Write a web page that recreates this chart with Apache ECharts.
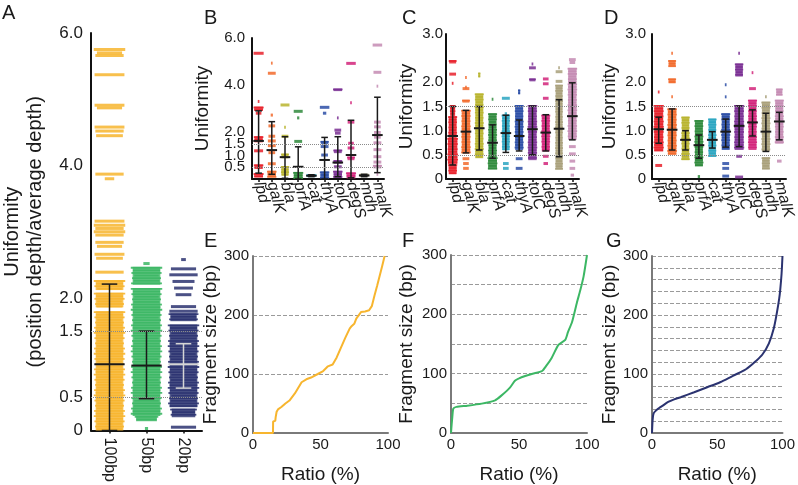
<!DOCTYPE html>
<html>
<head>
<meta charset="utf-8">
<script src="https://cdn.jsdelivr.net/npm/echarts@6/dist/echarts.min.js"></script>
<style>
html, body { margin: 0; padding: 0; background: #fff; }
#main { width: 798px; height: 485px; }
</style>
</head>
<body>
<div id="main"></div>
<script>
// ---- data ----
var fragCats = ['100bp', '50bp', '20bp'];
var genes = ['lpd', 'galK', 'bla', 'prfA', 'cat', 'thyA', 'tolC', 'degS', 'mdh', 'malK'];

// uniformity clusters: [category index, low, high, relative spread]
var bandsA = [
  [0, 5.75, 5.75, 1], [0, 5.70, 5.70, 0.8], [0, 5.66, 5.66, 0.9], [0, 5.37, 5.37, 0.95],
  [0, 4.91, 4.91, 0.95], [0, 4.87, 4.87, 0.8], [0, 4.58, 4.58, 0.95], [0, 4.52, 4.52, 0.9],
  [0, 4.45, 4.45, 0.85], [0, 3.87, 3.87, 0.9], [0, 3.80, 3.80, 0.3], [0, 3.16, 3.16, 0.95],
  [0, 3.10, 3.10, 1], [0, 3.05, 3.05, 0.9], [0, 3.00, 3.00, 1], [0, 2.95, 2.95, 0.9],
  [0, 2.84, 2.84, 0.9], [0, 2.78, 2.78, 0.8], [0, 2.66, 2.66, 0.95], [0, 2.60, 2.60, 0.85],
  [0, 2.39, 2.39, 0.9], [0, 2.12, 2.27, 1], [0, 1.86, 2.08, 1], [0, 0.0, 1.80, 1],
  [1, 2.52, 2.52, 0.2], [1, 2.20, 2.47, 1], [1, 0.22, 2.15, 1], [1, 0.14, 0.22, 0.75], [1, 0.03, 0.03, 0.1],
  [2, 2.58, 2.58, 0.15], [2, 2.44, 2.44, 0.8], [2, 2.35, 2.35, 0.9], [2, 2.25, 2.25, 0.7],
  [2, 2.15, 2.15, 0.6], [2, 2.05, 2.05, 0.5], [2, 1.87, 1.87, 0.8], [2, 1.80, 1.80, 0.9],
  [2, 1.65, 1.77, 0.95], [2, 0.35, 1.60, 1], [2, 0.20, 0.33, 0.85], [2, 0.05, 0.05, 0.8]
];
// [category index, mean, low, high]
var statsA = [[0, 1.0, 0.0, 2.21], [1, 0.98, 0.48, 1.5], [2, 1.0, 0.64, 1.31]];

var bandsB = [
  [0, 5.35, 5.35, 0.9], [0, 3.3, 3.3, 0.15], [0, 2.92, 3.08, 0.9], [0, 2.8, 2.8, 0.5], [0, 1.56, 1.82, 0.85],
  [0, 1.12, 1.2, 0.8], [0, 0.45, 0.62, 0.85], [0, 0.08, 0.25, 0.9],
  [1, 4.93, 4.93, 0.15], [1, 4.4, 4.5, 0.7], [1, 2.72, 2.72, 0.2], [1, 2.2, 2.26, 0.6], [1, 1.76, 1.82, 0.6],
  [1, 1.56, 1.62, 0.7], [1, 1.36, 1.42, 0.7], [1, 1.08, 1.12, 0.6], [1, 0.55, 0.65, 0.7], [1, 0.08, 0.35, 0.85],
  [2, 3.05, 3.15, 0.8], [2, 2.2, 2.2, 0.15], [2, 1.78, 1.82, 0.6], [2, 0.88, 1.08, 0.7], [2, 0.15, 0.55, 0.75],
  [3, 2.8, 2.88, 0.8], [3, 2.6, 2.6, 0.2], [3, 1.55, 1.6, 0.7], [3, 0.0, 0.3, 0.9],
  [4, 0.08, 0.2, 0.9],
  [5, 2.95, 3.05, 0.85], [5, 2.75, 2.8, 0.3], [5, 1.48, 1.62, 0.75], [5, 1.3, 1.38, 0.7], [5, 0.98, 1.02, 0.6], [5, 0.02, 0.32, 0.85],
  [6, 3.74, 3.85, 0.85], [6, 2.6, 2.6, 0.15], [6, 2.0, 2.08, 0.6], [6, 1.9, 1.95, 0.5], [6, 1.1, 1.25, 0.8],
  [6, 0.65, 0.8, 0.8], [6, 0.45, 0.52, 0.7], [6, 0.05, 0.35, 0.85],
  [7, 4.83, 4.92, 0.85], [7, 3.25, 3.25, 0.15], [7, 2.38, 2.42, 0.6], [7, 1.48, 1.52, 0.5], [7, 1.25, 1.32, 0.6],
  [7, 0.8, 0.95, 0.7], [7, 0.02, 0.28, 0.9],
  [8, 0.08, 0.22, 0.85],
  [9, 5.62, 5.7, 0.85], [9, 4.5, 4.54, 0.7], [9, 3.95, 3.95, 0.15], [9, 2.38, 2.42, 0.6], [9, 2.18, 2.22, 0.6],
  [9, 1.92, 1.98, 0.6], [9, 1.72, 1.78, 0.6], [9, 1.46, 1.54, 0.7], [9, 1.15, 1.25, 0.7], [9, 0.85, 0.95, 0.7],
  [9, 0.65, 0.72, 0.7], [9, 0.45, 0.6, 0.8], [9, 0.2, 0.2, 0.15]
];
var statsB = [[0, 1.62, 0.25, 2.9], [1, 1.23, 0.2, 2.44], [2, 0.93, 0.03, 1.8], [3, 0.52, 0, 1.37], [4, 0.14, 0.1, 0.18],
  [5, 0.81, 0, 1.77], [6, 0.7, 0.1, 1.8], [7, 1.02, 0.05, 2.5], [8, 0.15, 0.1, 0.2], [9, 1.87, 0.27, 3.48]];

var bandsC = [
  [0, 2.39, 2.46, 0.7], [0, 2.13, 2.17, 0.6], [0, 1.98, 1.98, 0.15], [0, 1.3, 1.53, 0.5], [0, 0.85, 1.3, 0.8],
  [0, 0.3, 0.85, 0.95], [0, 0.1, 0.3, 0.8],
  [1, 2.1, 2.1, 0.15], [1, 1.9, 1.9, 0.15], [1, 1.82, 1.87, 0.6], [1, 1.58, 1.64, 0.7], [1, 0.53, 1.43, 0.85],
  [1, 0.38, 0.42, 0.6], [1, 0.28, 0.32, 0.5], [1, 0.18, 0.22, 0.5],
  [2, 2.1, 2.2, 0.2], [2, 1.5, 1.77, 0.8], [2, 0.43, 1.5, 0.8],
  [3, 1.65, 1.65, 0.15], [3, 0.45, 1.36, 0.8], [3, 0.2, 0.45, 0.9],
  [4, 1.63, 1.67, 0.7], [4, 1.35, 1.35, 0.2], [4, 0.6, 1.33, 0.75], [4, 0.28, 0.32, 0.5], [4, 0.18, 0.22, 0.5],
  [5, 1.75, 1.85, 0.2], [5, 0.6, 1.53, 0.8], [5, 0.38, 0.42, 0.6], [5, 0.18, 0.22, 0.6],
  [6, 2.38, 2.38, 0.15], [6, 2.26, 2.3, 0.6], [6, 2.02, 2.08, 0.6], [6, 0.39, 1.53, 0.85],
  [7, 2.03, 2.07, 0.5], [7, 1.93, 1.97, 0.5], [7, 1.63, 1.67, 0.5], [7, 0.57, 1.33, 0.8], [7, 0.43, 0.47, 0.5], [7, 0.28, 0.32, 0.4],
  [8, 2.3, 2.3, 0.15], [8, 2.18, 2.22, 0.6], [8, 1.98, 2.02, 0.6], [8, 0.2, 1.95, 0.7],
  [9, 2.43, 2.47, 0.6], [9, 2.38, 2.41, 0.5], [9, 0.81, 2.3, 0.85], [9, 0.63, 0.67, 0.6], [9, 0.48, 0.52, 0.6],
  [9, 0.33, 0.37, 0.5], [9, 0.18, 0.22, 0.5], [9, 0.08, 0.08, 0.3]
];
var statsC = [[0, 0.89, 0.29, 1.5], [1, 0.98, 0.54, 1.42], [2, 1.05, 0.6, 1.5], [3, 0.75, 0.43, 1.12], [4, 0.95, 0.55, 1.32],
  [5, 0.89, 0.58, 1.22], [6, 1.03, 0.5, 1.51], [7, 0.96, 0.58, 1.33], [8, 1.04, 0.46, 1.64], [9, 1.3, 0.81, 1.99]];

var bandsD = [
  [0, 1.8, 1.8, 0.15], [0, 0.57, 1.53, 0.9], [0, 0.24, 0.28, 0.6],
  [1, 2.6, 2.6, 0.15], [1, 2.33, 2.46, 0.7], [1, 1.98, 2.08, 0.7], [1, 1.7, 1.7, 0.15], [1, 0.5, 1.46, 0.85],
  [2, 0.39, 1.29, 0.75],
  [3, 0.26, 1.22, 0.8], [3, 0.05, 0.05, 0.2],
  [4, 0.46, 1.25, 0.75],
  [5, 1.95, 1.95, 0.15], [5, 1.7, 1.7, 0.15], [5, 0.6, 1.36, 0.8], [5, 0.28, 0.32, 0.6], [5, 0.18, 0.22, 0.6], [5, 0.04, 0.06, 0.6],
  [6, 2.6, 2.6, 0.15], [6, 2.12, 2.39, 0.75], [6, 0.6, 1.53, 0.9], [6, 0.43, 0.47, 0.5], [6, 0.02, 0.04, 0.7],
  [7, 2.2, 2.2, 0.15], [7, 1.83, 1.87, 0.6], [7, 0.6, 1.64, 0.8],
  [8, 1.7, 1.7, 0.15], [8, 0.57, 1.6, 0.8], [8, 0.2, 0.45, 0.75],
  [9, 1.73, 1.87, 0.6], [9, 0.73, 1.64, 0.8], [9, 0.33, 0.37, 0.4]
];
var statsD = [[0, 1.03, 0.74, 1.28], [1, 1.02, 0.6, 1.45], [2, 0.81, 0.6, 1.0], [3, 0.7, 0.43, 0.91], [4, 0.81, 0.64, 0.98],
  [5, 0.98, 0.66, 1.24], [6, 1.1, 0.67, 1.51], [7, 1.17, 0.89, 1.43], [8, 0.98, 0.57, 1.36], [9, 1.19, 0.81, 1.38]];

// fragment size distributions (ratio %, fragment size bp)
var ratioE = [0, 14.8, 14.9, 16.5, 16.8, 17.5, 18.5, 21, 24, 27, 31, 36, 39.5, 43, 48, 52, 55.5, 59, 62, 65, 68.5, 71.6, 73, 75, 76.5, 80, 83, 86, 88, 90, 92, 93.8, 95.7, 97.5];
var sizeE = [0, 0, 19.5, 20.5, 27, 36, 40, 44, 50, 55, 67, 86, 91, 94, 100, 105, 113, 116, 128, 144, 162, 177, 181, 185, 194, 205, 206, 208, 215, 233, 250, 266, 283, 300];
var ratioF = [0, 0.5, 1, 1.7, 4, 12, 22.6, 32.4, 37, 43.5, 47, 50, 54.5, 60, 67, 70, 74, 79, 84, 86, 89, 92.6, 95, 97.5, 100];
var sizeF = [0, 15, 27.5, 41, 44, 46, 49.5, 55, 63, 77, 88, 92, 96, 100, 104.5, 113, 126.6, 148.6, 157, 170, 187, 220, 240, 264, 300];
var ratioG = [0, 0.5, 1.2, 3, 5, 8, 12.4, 17, 22.4, 32.3, 42.3, 52.2, 62, 72, 79.6, 84.6, 89.6, 93.3, 95.8, 97.5, 98.3, 99.3, 100];
var sizeG = [0, 22, 33, 38, 41.5, 46, 52.6, 57, 61, 69, 77.5, 86, 97, 108, 122, 133, 152, 177, 205, 228, 243.5, 270, 300];

var fragColors = ['#F7B52E', '#3CB764', '#2B3370'];
var fragErrColors = ['#1a1a1a', '#1a1a1a', '#d5d5d5'];
var geneColors = ['#E8212B', '#F26A2C', '#B8B42E', '#2F8A3C', '#2AA5C1', '#2B4EA6', '#7A2F93', '#D2247A', '#A8A07A', '#C48BB3'];
var geneErrColors = genes.map(function () { return '#1a1a1a'; });

var FONT = '"Liberation Sans", Arial, Helvetica, sans-serif';
var TXT = '#1a1a1a';

// ---- helpers ----
function zip(a, b) {
    var out = [];
    for (var i = 0; i < a.length; i++) out.push([a[i], b[i]]);
    return out;
}

function bandRender(colors, frac) {
    var pat = [1, 0.86, 0.96, 0.78, 0.92, 0.82, 0.98, 0.88];
    return function (params, api) {
        var cat = api.value(0);
        var pLo = api.coord([cat, api.value(1)]);
        var pHi = api.coord([cat, api.value(2)]);
        var bw = api.size([1, 0])[0] * frac * api.value(3);
        var col = colors[cat];
        var h = pLo[1] - pHi[1];
        if (h < 2.5) {
            return { type: 'rect', shape: { x: pLo[0] - bw / 2, y: pHi[1] - 1.5, width: bw, height: Math.max(h, 3) },
                style: { fill: col, opacity: 0.85 } };
        }
        var kids = [{ type: 'rect', shape: { x: pLo[0] - bw * 0.44, y: pHi[1], width: bw * 0.88, height: h },
            style: { fill: col, opacity: 0.82 } }];
        for (var y = pHi[1], k = 0; y < pLo[1] - 1; y += 2.6, k++) {
            var ww = bw * pat[k % pat.length];
            kids.push({ type: 'rect', shape: { x: pLo[0] - ww / 2, y: y, width: ww, height: 1.8 },
                style: { fill: col, opacity: 0.9 } });
        }
        return { type: 'group', children: kids };
    };
}

function errRender(colors, meanFrac, capFrac) {
    return function (params, api) {
        var cat = api.value(0);
        var pm = api.coord([cat, api.value(1)]);
        var pl = api.coord([cat, api.value(2)]);
        var ph = api.coord([cat, api.value(3)]);
        var bw = api.size([1, 0])[0];
        var x = pm[0], c = bw * capFrac / 2, m = bw * meanFrac / 2;
        var st = { stroke: colors[cat], lineWidth: 1.5 };
        var stm = { stroke: colors[cat], lineWidth: 2 };
        return { type: 'group', children: [
            { type: 'line', shape: { x1: x, y1: pl[1], x2: x, y2: ph[1] }, style: st },
            { type: 'line', shape: { x1: x - c, y1: pl[1], x2: x + c, y2: pl[1] }, style: st },
            { type: 'line', shape: { x1: x - c, y1: ph[1], x2: x + c, y2: ph[1] }, style: st },
            { type: 'line', shape: { x1: x - m, y1: pm[1], x2: x + m, y2: pm[1] }, style: stm }
        ] };
    };
}

var refLines = {
    silent: true, symbol: 'none', animation: false,
    label: { show: false },
    lineStyle: { type: 'dotted', color: '#8a8a8a', width: 1 },
    data: [{ yAxis: 0.5 }, { yAxis: 1.5 }]
};

function uniAxis(idx, max, shown, fontSize, margin, name, nameGap, nameSize) {
    return {
        gridIndex: idx, type: 'value', min: 0, max: max, interval: 0.5,
        axisLine: { show: true, lineStyle: { color: '#111', width: 2 } },
        axisTick: { show: false }, splitLine: { show: false },
        axisLabel: {
            fontSize: fontSize, color: TXT, fontFamily: FONT, margin: margin,
            formatter: function (v) {
                if (shown.indexOf(v) < 0) return '';
                return v === 0 ? '0' : v.toFixed(1);
            }
        },
        name: name, nameLocation: 'middle', nameGap: nameGap,
        nameTextStyle: { fontSize: nameSize, color: TXT, fontFamily: FONT, lineHeight: nameSize + 3 }
    };
}

function catAxis(idx, cats, rotate, italic, fontSize, margin) {
    return {
        gridIndex: idx, type: 'category', data: cats,
        axisLine: { show: true, lineStyle: { color: '#111', width: 2 } },
        axisTick: { show: true, alignWithLabel: true, length: 3, lineStyle: { color: '#111', width: 1.5 } },
        axisLabel: { rotate: rotate, fontStyle: italic ? 'italic' : 'normal', fontSize: fontSize,
            color: TXT, fontFamily: FONT, margin: margin, interval: 0 }
    };
}

function ratioAxis(idx) {
    return {
        gridIndex: idx, type: 'value', min: 0, max: 100, interval: 50,
        axisLine: { show: true, lineStyle: { color: '#7a7a7a', width: 2 } },
        axisTick: { show: false }, splitLine: { show: false },
        axisLabel: { fontSize: 15, color: TXT, fontFamily: FONT, margin: 4 },
        name: 'Ratio (%)', nameLocation: 'middle', nameGap: 32,
        nameTextStyle: { fontSize: 19, color: TXT, fontFamily: FONT }
    };
}

function sizeAxis(idx, step, nameGap) {
    return {
        gridIndex: idx, type: 'value', min: 0, max: 300, interval: step,
        axisLine: { show: true, lineStyle: { color: '#7a7a7a', width: 2 } },
        axisTick: { show: false },
        splitLine: { show: true, lineStyle: { type: 'dashed', color: '#9a9a9a', width: 1 } },
        axisLabel: { fontSize: 15, color: TXT, fontFamily: FONT, margin: 4,
            formatter: function (v) { return v % 100 === 0 ? String(v) : ''; } },
        name: 'Fragment size (bp)', nameLocation: 'middle', nameGap: nameGap,
        nameTextStyle: { fontSize: 19, color: TXT, fontFamily: FONT }
    };
}

function panelLetter(txt, x, y) {
    return { type: 'text', left: x, top: y, style: { text: txt, fontSize: 20, fill: TXT, fontFamily: FONT } };
}

// ---- chart ----
var chartObj = echarts.init(document.getElementById('main'));

var chartOpt = {
    animation: false,
    backgroundColor: '#fff',
    grid: [
        { left: 85, top: 33, width: 117, height: 402 },
        { left: 252, top: 38, width: 132, height: 141 },
        { left: 446, top: 34, width: 133, height: 145 },
        { left: 652, top: 34, width: 134, height: 145 },
        { left: 253, top: 256, width: 135, height: 181 },
        { left: 451, top: 255, width: 136, height: 182 },
        { left: 652, top: 256, width: 133, height: 181 }
    ],
    xAxis: [
        catAxis(0, fragCats, -90, false, 16, 7),
        catAxis(1, genes, -75, true, 16, 3),
        catAxis(2, genes, -75, true, 16, 3),
        catAxis(3, genes, -75, true, 16, 3),
        ratioAxis(4), ratioAxis(5), ratioAxis(6)
    ],
    yAxis: [
        uniAxis(0, 6, [0, 0.5, 1.5, 2, 4, 6], 17, 8, 'Uniformity\n(position depth/average depth)', 44, 20),
        uniAxis(1, 6, [0, 0.5, 1, 1.5, 2, 4, 6], 15, 7, 'Uniformity', 38, 19),
        uniAxis(2, 3, [0, 0.5, 1, 1.5, 2, 3], 15, 3, 'Uniformity', 26, 19),
        uniAxis(3, 3, [0, 0.5, 1, 1.5, 2, 3], 15, 6, 'Uniformity', 30, 19),
        sizeAxis(4, 100, 31), sizeAxis(5, 50, 35), sizeAxis(6, 20, 33)
    ],
    graphic: [
        panelLetter('A', 2, 3), panelLetter('B', 204, 8), panelLetter('C', 402, 8), panelLetter('D', 604, 8),
        panelLetter('E', 204, 231), panelLetter('F', 402, 231), panelLetter('G', 606, 231)
    ],
    series: [
        { type: 'custom', xAxisIndex: 0, yAxisIndex: 0, renderItem: bandRender(fragColors, 0.85), data: bandsA, z: 2 },
        { type: 'custom', xAxisIndex: 0, yAxisIndex: 0, renderItem: errRender(fragErrColors, 0.82, 0.42), data: statsA, z: 4, markLine: refLines },
        { type: 'custom', xAxisIndex: 1, yAxisIndex: 1, renderItem: bandRender(geneColors, 0.85), data: bandsB, z: 2 },
        { type: 'custom', xAxisIndex: 1, yAxisIndex: 1, renderItem: errRender(geneErrColors, 0.8, 0.5), data: statsB, z: 4, markLine: refLines },
        { type: 'custom', xAxisIndex: 2, yAxisIndex: 2, renderItem: bandRender(geneColors, 0.85), data: bandsC, z: 2 },
        { type: 'custom', xAxisIndex: 2, yAxisIndex: 2, renderItem: errRender(geneErrColors, 0.8, 0.5), data: statsC, z: 4, markLine: refLines },
        { type: 'custom', xAxisIndex: 3, yAxisIndex: 3, renderItem: bandRender(geneColors, 0.85), data: bandsD, z: 2 },
        { type: 'custom', xAxisIndex: 3, yAxisIndex: 3, renderItem: errRender(geneErrColors, 0.8, 0.5), data: statsD, z: 4, markLine: refLines },
        { type: 'line', xAxisIndex: 4, yAxisIndex: 4, data: zip(ratioE, sizeE), showSymbol: false,
            lineStyle: { color: fragColors[0], width: 2 }, z: 3 },
        { type: 'line', xAxisIndex: 5, yAxisIndex: 5, data: zip(ratioF, sizeF), showSymbol: false, smooth: 0.2,
            lineStyle: { color: fragColors[1], width: 2 }, z: 3 },
        { type: 'line', xAxisIndex: 6, yAxisIndex: 6, data: zip(ratioG, sizeG), showSymbol: false, smooth: 0.3,
            lineStyle: { color: fragColors[2], width: 2 }, z: 3 }
    ]
};

chartObj.setOption(chartOpt);
</script>
</body>
</html>
